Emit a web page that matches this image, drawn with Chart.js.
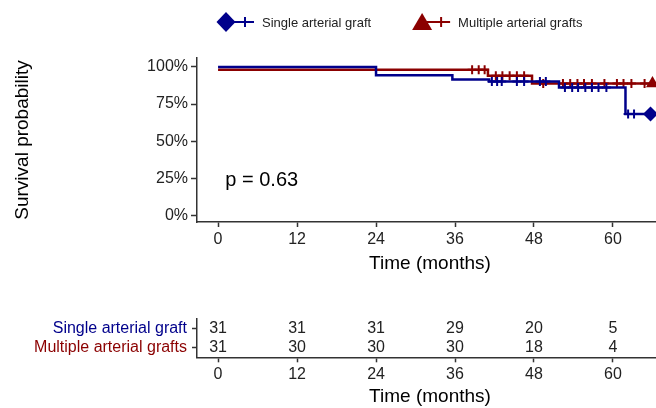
<!DOCTYPE html>
<html lang="en">
<head>
<meta charset="UTF-8">
<title>Survival by graft strategy</title>
<script src="https://cdn.jsdelivr.net/npm/chart.js"></script>
<style>
  html, body { margin: 0; padding: 0; background: #fff; overflow: hidden; }
  .wrap { position: relative; width: 656px; height: 408px; overflow: hidden; }
  #km { position: absolute; left: 0; top: 0; }
  #risk { position: absolute; left: 0; top: 290px; }
</style>
</head>
<body>
<div class="wrap">
  <canvas id="km" width="700" height="290"></canvas>
  <canvas id="risk" width="700" height="118"></canvas>
</div>
<script>
// groups
var groups = ['Single arterial graft', 'Multiple arterial grafts'];
var colors = ['#00008B', '#8B0000'];
var markers = ['rectRot', 'triangle'];

// Kaplan-Meier steps (months, survival after the step)
var singleTimes = [0, 24, 35.6, 41.2, 51.8, 61.9, 65.7];
var singleSurv  = [1, 0.944, 0.915, 0.902, 0.862, 0.683, 0.683];
var multiTimes  = [0, 41, 47.7, 66];
var multiSurv   = [0.98, 0.941, 0.888, 0.888];

// censored (+)
var singleCensTimes = [41.6, 42.4, 43.1, 45.4, 46.5, 48.9, 49.8, 52.7, 53.8, 54.7, 55.8, 56.8, 57.8, 59.0, 62.3, 63.2];
var singleCensSurv  = [0.902, 0.902, 0.902, 0.902, 0.902, 0.902, 0.902, 0.862, 0.862, 0.862, 0.862, 0.862, 0.862, 0.862, 0.683, 0.683];
var multiCensTimes  = [38.6, 39.6, 40.5, 42.2, 43.2, 44.3, 45.4, 46.5, 49.4, 52.4, 53.5, 54.6, 55.6, 56.8, 58.7, 60.6, 61.6, 62.8, 64.8];
var multiCensSurv   = [0.98, 0.98, 0.98, 0.941, 0.941, 0.941, 0.941, 0.941, 0.888, 0.888, 0.888, 0.888, 0.888, 0.888, 0.888, 0.888, 0.888, 0.888, 0.888];

// axes
var xTicks = [0, 12, 24, 36, 48, 60];
var yTicks = [0, 0.25, 0.5, 0.75, 1];
var yTickLabels = ['0%', '25%', '50%', '75%', '100%'];

// number at risk
var singleAtRisk = [31, 31, 31, 29, 20, 5];
var multiAtRisk  = [31, 30, 30, 30, 18, 4];

var pValueText = 'p = 0.63';

Chart.defaults.font.family = "'Liberation Sans', Arial, sans-serif";
Chart.defaults.color = '#222';

function pts(xs, ys) {
  return xs.map(function(x, i) { return { x: x, y: ys[i] }; });
}

var curves = [pts(singleTimes, singleSurv), pts(multiTimes, multiSurv)];
var censors = [pts(singleCensTimes, singleCensSurv), pts(multiCensTimes, multiCensSurv)];

var datasets = [];
groups.forEach(function(name, i) {
  var c = curves[i];
  datasets.push({
    type: 'line', label: name, data: c, stepped: 'before',
    borderColor: colors[i], borderWidth: 2.5, pointRadius: 0, fill: false
  });
  datasets.push({
    type: 'scatter', label: name + ' censored', data: censors[i],
    pointStyle: 'cross', pointRadius: 4.5, borderColor: colors[i], pointBorderWidth: 2
  });
  datasets.push({
    type: 'scatter', label: name + ' end', data: [c[c.length - 1]],
    pointStyle: markers[i], pointRadius: 7.5, backgroundColor: colors[i], borderColor: colors[i], pointBorderWidth: 0
  });
});

var axisCol = '#333';

// legend drawn on top of the survival chart
var kmLegend = {
  id: 'kmLegend',
  afterDraw: function(chart) {
    var ctx = chart.ctx;
    var x = 216, y = 22;
    ctx.save();
    ctx.font = "13px 'Liberation Sans', Arial, sans-serif";
    ctx.textBaseline = 'middle';
    groups.forEach(function(name, i) {
      ctx.strokeStyle = colors[i];
      ctx.fillStyle = colors[i];
      ctx.lineWidth = 2;
      ctx.beginPath(); ctx.moveTo(x + 10, y); ctx.lineTo(x + 38, y); ctx.stroke();
      ctx.beginPath(); ctx.moveTo(x + 29, y - 5); ctx.lineTo(x + 29, y + 5); ctx.stroke();
      ctx.beginPath();
      if (markers[i] === 'rectRot') {
        ctx.moveTo(x + 10, y - 10); ctx.lineTo(x + 19.5, y); ctx.lineTo(x + 10, y + 10); ctx.lineTo(x + 0.5, y);
      } else {
        ctx.moveTo(x + 10, y - 9); ctx.lineTo(x + 20, y + 8); ctx.lineTo(x, y + 8);
      }
      ctx.closePath(); ctx.fill();
      ctx.fillStyle = '#222';
      ctx.fillText(name, x + 46, y + 1);
      x = x + 46 + ctx.measureText(name).width + 41;
    });
    ctx.restore();
  }
};

var pLabel = {
  id: 'pLabel',
  afterDatasetsDraw: function(chart) {
    var ctx = chart.ctx;
    ctx.save();
    ctx.font = "20px 'Liberation Sans', Arial, sans-serif";
    ctx.fillStyle = '#000';
    ctx.textBaseline = 'middle';
    ctx.fillText(pValueText, chart.scales.x.getPixelForValue(1.1), chart.scales.y.getPixelForValue(0.232));
    ctx.restore();
  }
};

new Chart(document.getElementById('km'), {
  type: 'line',
  data: { datasets: datasets },
  options: {
    responsive: false, animation: false, devicePixelRatio: 1,
    layout: { padding: { top: 58, left: 0, right: 37, bottom: 0 } },
    scales: {
      x: {
        type: 'linear', min: -3.2, max: 67.6,
        afterBuildTicks: function(s) { s.ticks = xTicks.map(function(v) { return { value: v }; }); },
        afterFit: function(s) { s.height = 68; },
        grid: { drawOnChartArea: false, tickLength: 5, tickColor: axisCol, tickWidth: 1.5 },
        border: { display: true, color: axisCol, width: 1.5 },
        ticks: { font: { size: 16 }, padding: 3, maxRotation: 0 },
        title: { display: true, text: 'Time (months)', color: '#000', font: { size: 19 }, padding: { top: 0, bottom: 15 } }
      },
      y: {
        type: 'linear', min: -0.045, max: 1.06,
        afterBuildTicks: function(s) { s.ticks = yTicks.map(function(v) { return { value: v }; }); },
        afterFit: function(s) { s.width = 197; },
        grid: { drawOnChartArea: false, tickLength: 6, tickColor: axisCol, tickWidth: 1.5 },
        border: { display: true, color: axisCol, width: 1.5 },
        ticks: { font: { size: 16 }, padding: 3, callback: function(v, i) { return yTickLabels[i]; } },
        title: { display: true, text: 'Survival probability', color: '#000', font: { size: 19 }, padding: { top: 11, bottom: 0 } }
      }
    },
    plugins: { legend: { display: false }, tooltip: { enabled: false } }
  },
  plugins: [kmLegend, pLabel]
});

// number at risk table
var atRisk = [singleAtRisk, multiAtRisk];
var riskNumbers = {
  id: 'riskNumbers',
  afterDatasetsDraw: function(chart) {
    var ctx = chart.ctx, xs = chart.scales.x, ys = chart.scales.y;
    ctx.save();
    ctx.font = "16px 'Liberation Sans', Arial, sans-serif";
    ctx.fillStyle = '#222';
    ctx.textAlign = 'center';
    ctx.textBaseline = 'middle';
    atRisk.forEach(function(row, i) {
      row.forEach(function(n, j) {
        ctx.fillText(String(n), xs.getPixelForValue(xTicks[j]), ys.getPixelForValue(i));
      });
    });
    ctx.restore();
  }
};

new Chart(document.getElementById('risk'), {
  type: 'scatter',
  data: { datasets: [] },
  options: {
    responsive: false, animation: false, devicePixelRatio: 1,
    layout: { padding: { top: 28.5, left: 0, right: 37, bottom: 0 } },
    scales: {
      x: {
        type: 'linear', min: -3.2, max: 67.6,
        afterBuildTicks: function(s) { s.ticks = xTicks.map(function(v) { return { value: v }; }); },
        afterFit: function(s) { s.height = 50.7; },
        grid: { drawOnChartArea: false, tickLength: 5, tickColor: axisCol, tickWidth: 1.5 },
        border: { display: true, color: axisCol, width: 1.5 },
        ticks: { font: { size: 16 }, padding: 3, maxRotation: 0 },
        title: { display: true, text: 'Time (months)', color: '#000', font: { size: 19 }, padding: { top: 0, bottom: 0 } }
      },
      y: {
        type: 'category', labels: groups, offset: true,
        afterFit: function(s) { s.width = 197; },
        grid: { drawOnChartArea: false, tickLength: 5, tickColor: axisCol, tickWidth: 1.5, offset: false },
        border: { display: true, color: axisCol, width: 1.5 },
        ticks: { font: { size: 16 }, padding: 5, autoSkip: false, color: function(c) { return colors[c.index]; } }
      }
    },
    plugins: { legend: { display: false }, tooltip: { enabled: false } }
  },
  plugins: [riskNumbers]
});
</script>
</body>
</html>
